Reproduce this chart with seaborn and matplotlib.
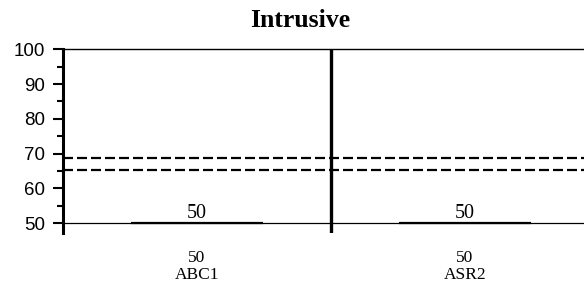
import matplotlib
matplotlib.use("Agg")
import matplotlib.pyplot as plt
import seaborn as sns
import pandas as pd

# ---- data ----
categories = ["ABC1", "ASR2"]
counts = [50, 50]
values = [50, 50]
ref_lines = [68.7, 65.3]
y_ticks = [50, 60, 70, 80, 90, 100]
y_minor = [55, 65, 75, 85, 95]
title = "Intrusive"
baseline = 50

sns.set_style("ticks")
plt.rcParams["font.family"] = ["Liberation Sans", "DejaVu Sans"]
plt.rcParams["text.color"] = "black"
plt.rcParams["xtick.color"] = "black"
plt.rcParams["ytick.color"] = "black"
plt.rcParams["xtick.labelcolor"] = "black"
plt.rcParams["ytick.labelcolor"] = "black"

W, H = 584, 289
fig = plt.figure(figsize=(W / 100, H / 100), dpi=100)
ax = fig.add_axes([63 / W, 56 / H, (W - 63) / W, (233 - 49.3) / H])

df = pd.DataFrame({"cat": categories,
                   "h": [v - baseline for v in values]})
sns.barplot(data=df, x="cat", y="h", order=categories, ax=ax, width=0.49,
            color="white", edgecolor="black", linewidth=1.6, bottom=baseline,
            errorbar=None)

ax.bar_label(ax.containers[0], labels=[str(v) for v in values], padding=0,
             fontsize=14.5, family=["Liberation Serif"], color="black")

for r in ref_lines:
    ax.axhline(r, color="black", lw=1.6, linestyle=(0, (4.5, 1.8)), zorder=3)

ax.axhline(baseline, color="black", lw=0.9, zorder=2)
ax.axvline(0.5, color="black", lw=2.4, zorder=4)

ax.set_ylim(47.2, 100)
ax.set_xlim(-0.5, 1.444)
ax.set_yticks(y_ticks)
ax.set_yticks(y_minor, minor=True)
ax.set_yticklabels([str(t) for t in y_ticks], fontsize=13.5, color="black")
ax.set_xticks(range(len(categories)))
ax.set_xticklabels([f"{n}\n{c}" for c, n in zip(categories, counts)],
                   fontsize=12.5, family=["Liberation Serif"], linespacing=1.15,
                   color="black")
ax.tick_params(axis="x", length=0, pad=12)
ax.tick_params(axis="y", which="major", direction="out", length=7, width=1.5,
               pad=6, color="black")
ax.tick_params(axis="y", which="minor", direction="out", length=4, width=1.5,
               color="black")
ax.set_xlabel("")
ax.set_ylabel("")

for s in ["right", "bottom"]:
    ax.spines[s].set_visible(False)
ax.spines["left"].set_linewidth(2.2)
ax.spines["top"].set_linewidth(1.0)
for s in ax.spines.values():
    s.set_color("black")

fig.text(300 / W, 1 - 27 / H, title, ha="center", va="baseline",
         fontsize=18.5, fontweight="bold", family=["Liberation Serif"],
         color="black")

fig.savefig("out.png", dpi=100)
